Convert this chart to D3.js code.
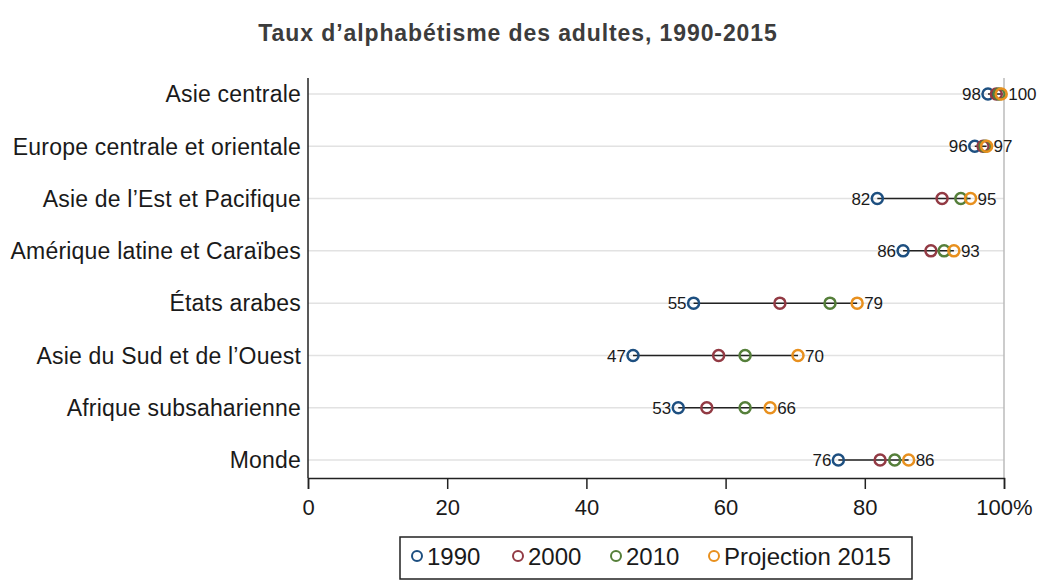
<!DOCTYPE html>
<meta charset="utf-8">
<head>
<style>
  body { margin: 0; background: #fff; }
  text { font-family: "Liberation Sans", Arial, sans-serif; fill: #1a1a1a; }
</style>
</head>
<body>
<div id="content"></div>
<script src="https://d3js.org/d3.v7.min.js"></script>
<script>

// data
var regions = ["Asie centrale", "Europe centrale et orientale", "Asie de l\u2019Est et Pacifique",
  "Am\u00e9rique latine et Cara\u00efbes", "\u00c9tats arabes", "Asie du Sud et de l\u2019Ouest",
  "Afrique subsaharienne", "Monde"];
var v1990 = [97.7, 95.8, 81.8, 85.5, 55.4, 46.7, 53.2, 76.2];
var v2000 = [98.9, 97.0, 91.1, 89.5, 67.8, 59.0, 57.3, 82.2];
var v2010 = [99.3, 97.3, 93.8, 91.4, 75.0, 62.8, 62.8, 84.3];
var v2015 = [99.6, 97.5, 95.2, 92.8, 78.9, 70.4, 66.4, 86.3];
var leftLabels = ["98", "96", "82", "86", "55", "47", "53", "76"];
var rightLabels = ["100", "97", "95", "93", "79", "70", "66", "86"];
var seriesNames = ["1990", "2000", "2010", "Projection 2015"];
var seriesColors = ["#1d4f80", "#923a44", "#557f3a", "#e8901e"];
var xTicks = [0, 20, 40, 60, 80, 100];

var W = 1043, H = 582;
var left = 308, right = 1004, bottom = 478;

var svg = d3.select("#content").append("svg").attr("width", W).attr("height", H);

var x = d3.scaleLinear().domain([0, 100]).range([left, right]);
var y = d3.scalePoint().domain(regions).range([94, 460]);

svg.append("text").attr("x", 518).attr("y", 41).attr("text-anchor", "middle")
  .style("font-weight", "bold").style("font-size", "23px").style("letter-spacing", "0.9px")
  .style("fill", "#3c3c3c")
  .text("Taux d\u2019alphab\u00e9tisme des adultes, 1990-2015");

// grid lines
svg.selectAll(".grid").data(regions).enter().append("line")
  .attr("x1", left).attr("x2", right)
  .attr("y1", function(d) { return y(d); }).attr("y2", function(d) { return y(d); })
  .attr("stroke", "#e2e2e2").attr("stroke-width", 1.5);

// right frame line
svg.append("line").attr("x1", right).attr("x2", right).attr("y1", 78).attr("y2", bottom)
  .attr("stroke", "#bbb").attr("stroke-width", 1.5);

// y axis
svg.append("line").attr("x1", left).attr("x2", left).attr("y1", 78).attr("y2", bottom)
  .attr("stroke", "#222").attr("stroke-width", 1.5);
svg.selectAll(".ylab").data(regions).enter().append("text")
  .attr("x", left - 7).attr("y", function(d) { return y(d); }).attr("dy", "0.36em")
  .attr("text-anchor", "end").style("font-size", "23px").style("letter-spacing", "0.2px")
  .text(function(d) { return d; });

// x axis
var xAxis = svg.append("g").attr("transform", "translate(0," + bottom + ")")
  .call(d3.axisBottom(x).tickValues(xTicks).tickSize(11).tickPadding(10)
    .tickFormat(function(d) { return d === 100 ? "100%" : d; }));
xAxis.select(".domain").attr("stroke", "#222").attr("stroke-width", 1.5);
xAxis.selectAll(".tick line").attr("stroke", "#222").attr("stroke-width", 1.5);
xAxis.selectAll(".tick text").style("font-size", "22px")
  .style("font-family", "Liberation Sans, Arial, sans-serif").attr("fill", "#1a1a1a");

// connecting lines
var rows = regions.map(function(r, i) {
  return { name: r, vals: [v1990[i], v2000[i], v2010[i], v2015[i]], l: leftLabels[i], rr: rightLabels[i] };
});
svg.selectAll(".conn").data(rows).enter().append("line")
  .attr("x1", function(d) { return x(d3.min(d.vals)); })
  .attr("x2", function(d) { return x(d3.max(d.vals)); })
  .attr("y1", function(d) { return y(d.name); }).attr("y2", function(d) { return y(d.name); })
  .attr("stroke", "#222").attr("stroke-width", 1.5);

// dots
seriesNames.forEach(function(s, k) {
  svg.selectAll(".dot" + k).data(rows).enter().append("circle")
    .attr("cx", function(d) { return x(d.vals[k]); })
    .attr("cy", function(d) { return y(d.name); })
    .attr("r", 5.5).attr("fill", "none")
    .attr("stroke", seriesColors[k]).attr("stroke-width", 2.5);
});

// value labels
svg.selectAll(".lv").data(rows).enter().append("text")
  .attr("x", function(d) { return x(d.vals[0]) - 7; })
  .attr("y", function(d) { return y(d.name); }).attr("dy", "0.36em")
  .attr("text-anchor", "end").style("font-size", "17px").text(function(d) { return d.l; });
svg.selectAll(".rv").data(rows).enter().append("text")
  .attr("x", function(d) { return x(d.vals[3]) + 7; })
  .attr("y", function(d) { return y(d.name); }).attr("dy", "0.36em")
  .style("font-size", "17px").text(function(d) { return d.rr; });

// legend
var lg = svg.append("g");
lg.append("rect").attr("x", 400).attr("y", 537).attr("width", 512).attr("height", 42)
  .attr("fill", "#fff").attr("stroke", "#222").attr("stroke-width", 1.5);
var legX = [417, 518, 616, 714];
seriesNames.forEach(function(s, k) {
  lg.append("circle").attr("cx", legX[k]).attr("cy", 556).attr("r", 5)
    .attr("fill", "none").attr("stroke", seriesColors[k]).attr("stroke-width", 2);
  lg.append("text").attr("x", legX[k] + 10).attr("y", 556).attr("dy", "0.36em")
    .style("font-size", "24px").text(s);
});

</script>
</body>
</html>
